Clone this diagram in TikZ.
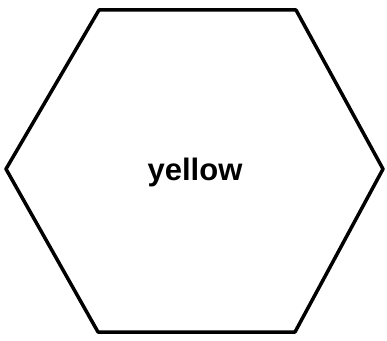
\documentclass[tikz,border=0pt]{standalone}
\usepackage{fontspec}
\setmainfont{Liberation Sans}
\usepackage{tikz}
\usetikzlibrary{positioning,calc}
\tikzset{every picture/.style={line width=0.75pt}}

\begin{document}
\begin{tikzpicture}[x=1pt,y=1pt]
    \useasboundingbox (0,0) rectangle (387,340);

    % hexagon outline
    \draw[line width=3.5pt, line join=round]
        (99,330) -- (296,330) -- (383,171) -- (295,8) -- (98,8) -- (6,171) -- cycle;

    % label
    \node (label) at (195,168) {\fontsize{31}{36}\selectfont\bfseries yellow};
\end{tikzpicture}
\end{document}
